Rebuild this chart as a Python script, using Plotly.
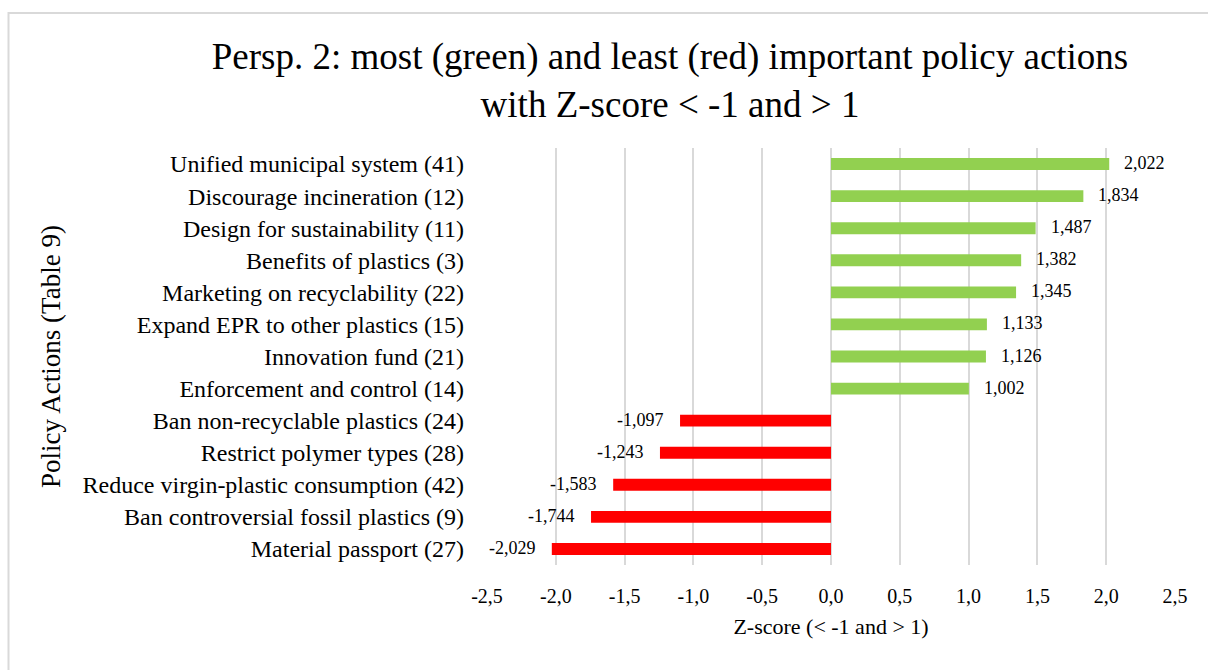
import plotly.graph_objects as go

# Policy actions, listed bottom to top as drawn on the y axis
actions = [
    "Material passport (27)",
    "Ban controversial fossil plastics (9)",
    "Reduce virgin-plastic consumption (42)",
    "Restrict polymer types (28)",
    "Ban non-recyclable plastics (24)",
    "Enforcement and control (14)",
    "Innovation fund (21)",
    "Expand EPR to other plastics (15)",
    "Marketing on recyclability (22)",
    "Benefits of plastics (3)",
    "Design for sustainability (11)",
    "Discourage incineration (12)",
    "Unified municipal system (41)",
]
z_scores = [-2.029, -1.744, -1.583, -1.243, -1.097,
            1.002, 1.126, 1.133, 1.345, 1.382, 1.487, 1.834, 2.022]

tick_vals = [-2.5, -2.0, -1.5, -1.0, -0.5, 0.0, 0.5, 1.0, 1.5, 2.0, 2.5]
tick_text = ["-2,5", "-2,0", "-1,5", "-1,0", "-0,5", "0,0",
             "0,5", "1,0", "1,5", "2,0", "2,5"]

GREEN = "#92D050"
RED = "#FF0000"
FONT = "Liberation Serif, Times New Roman, serif"

colors = [GREEN if v > 0 else RED for v in z_scores]

fig = go.Figure(
    go.Bar(
        x=z_scores,
        y=actions,
        orientation="h",
        marker=dict(color=colors, line=dict(width=0)),
        width=0.37,
        hoverinfo="x+y",
    )
)

# Value labels beside each bar end, decimal comma
for name, v in zip(actions, z_scores):
    label = f"{v:.3f}".replace(".", ",")
    fig.add_annotation(
        x=v, y=name, text=label, showarrow=False,
        xanchor="left" if v > 0 else "right",
        xshift=13 if v > 0 else -14,
        yshift=1,
        font=dict(family=FONT, size=18, color="#000000"),
    )

# Chart frame
fig.add_shape(
    type="rect", xref="paper", yref="paper",
    x0=-0.6955, x1=1.08, y0=-0.35, y1=1.3237,
    line=dict(color="#D9D9D9", width=2), layer="below",
)

fig.update_layout(
    width=1208, height=670,
    margin=dict(l=487, r=33, t=148, b=105),
    paper_bgcolor="white", plot_bgcolor="white",
    font=dict(family=FONT, color="#000000"),
    showlegend=False,
    title=dict(
        text="Persp. 2: most (green) and least (red) important policy actions<br>with Z-score < -1 and > 1",
        x=670 / 1208, xanchor="center", xref="container",
        y=1 - 69 / 670, yanchor="middle", yref="container",
        font=dict(family=FONT, size=37, color="#000000"),
    ),
    xaxis=dict(
        range=[-2.5, 2.5],
        tickvals=tick_vals, ticktext=tick_text,
        showgrid=True, gridcolor="#D9D9D9", gridwidth=2,
        zeroline=False, showline=False,
        ticks="", ticklabelstandoff=17,
        tickfont=dict(family=FONT, size=20),
        title=dict(text="Z-score (< -1 and > 1)", standoff=12,
                   font=dict(family=FONT, size=22)),
    ),
    yaxis=dict(
        categoryorder="array", categoryarray=actions,
        range=[-0.5, len(actions) - 0.5],
        showgrid=False, zeroline=False, showline=False,
        ticks="", ticklabelstandoff=22,
        tickfont=dict(family=FONT, size=24),
        title=dict(text="Policy Actions (Table 9)", standoff=14,
                   font=dict(family=FONT, size=27)),
    ),
)

fig.write_html("out.html")
